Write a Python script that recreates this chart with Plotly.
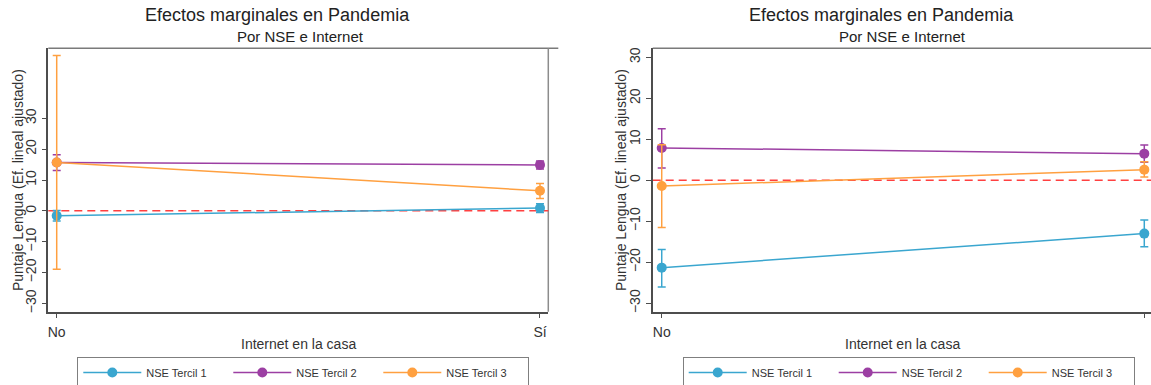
import plotly.graph_objects as go

# ---------------- data ----------------
x_labels = ["No", "Sí"]
x_pos = [0, 1]
series_names = ["NSE Tercil 1", "NSE Tercil 2", "NSE Tercil 3"]
colors = ["#3aa6cf", "#9c3fa3", "#ffa040"]

# Left panel: estimates and 95% CI
left_t1 = [-1.6, 0.9]
left_t1_lo = [-3.3, -0.5]
left_t1_hi = [0.1, 2.3]
left_t2 = [15.7, 14.9]
left_t2_lo = [13.1, 13.6]
left_t2_hi = [18.2, 16.2]
left_t3 = [15.7, 6.5]
left_t3_lo = [-18.9, 4.0]
left_t3_hi = [50.4, 8.9]

# Right panel
right_t1 = [-21.3, -13.0]
right_t1_lo = [-26.0, -16.2]
right_t1_hi = [-16.9, -9.7]
right_t2 = [7.9, 6.5]
right_t2_lo = [3.0, 4.4]
right_t2_hi = [12.6, 8.6]
right_t3 = [-1.4, 2.6]
right_t3_lo = [-11.5, 0.8]
right_t3_hi = [8.7, 4.5]

y_ticks = [-30, -20, -10, 0, 10, 20, 30]
title_text = "Efectos marginales en Pandemia"
subtitle_text = "Por NSE e Internet"
x_title = "Internet en la casa"
y_title = "Puntaje Lengua (Ef. lineal ajustado)"

# ---------------- layout helpers ----------------
W, H = 1151, 385
FONT = "Liberation Sans, Arial, sans-serif"

def px(xp):
    return xp / W

def py(yp):
    return 1 - yp / H

fig = go.Figure()

panels = [
    dict(xa="x", ya="y", leg="legend",
         series=[(left_t1, left_t1_lo, left_t1_hi),
                 (left_t2, left_t2_lo, left_t2_hi),
                 (left_t3, left_t3_lo, left_t3_hi)]),
    dict(xa="x2", ya="y2", leg="legend2",
         series=[(right_t1, right_t1_lo, right_t1_hi),
                 (right_t2, right_t2_lo, right_t2_hi),
                 (right_t3, right_t3_lo, right_t3_hi)]),
]

for p in panels:
    for name, col, (est, lo, hi) in zip(series_names, colors, p["series"]):
        fig.add_trace(go.Scatter(
            x=x_pos, y=est, name=name, mode="lines+markers",
            xaxis=p["xa"], yaxis=p["ya"], legend=p["leg"],
            line=dict(color=col, width=1.5),
            marker=dict(color=col, size=10, symbol="circle"),
            error_y=dict(type="data", symmetric=False,
                         array=[h - e for h, e in zip(hi, est)],
                         arrayminus=[e - l for e, l in zip(est, lo)],
                         color=col, thickness=1.5, width=4),
            showlegend=True,
        ))

ydom = [py(311.7), py(48.3)]
axis_common = dict(showgrid=False, zeroline=False, showline=True,
                   linecolor="#4d4d4d", linewidth=1.5, ticks="outside",
                   ticklen=5, tickwidth=1.2, tickcolor="#4d4d4d",
                   tickfont=dict(family=FONT, size=14, color="#333333"))

legend_common = dict(orientation="h", xanchor="left", y=py(357),
                     yanchor="top", bordercolor="#7f7f7f", borderwidth=1,
                     bgcolor="white",
                     font=dict(family=FONT, size=11, color="#333333"),
                     itemwidth=58, entrywidth=77, entrywidthmode="pixels")

fig.update_layout(
    width=W, height=H,
    margin=dict(l=0, r=0, t=0, b=0, autoexpand=False),
    paper_bgcolor="white", plot_bgcolor="white",
    font=dict(family=FONT, color="#333333"),
    xaxis=dict(domain=[px(48.3), px(548.3)], range=[-0.0174, 1.0172],
               tickvals=x_pos, ticktext=x_labels, anchor="y",
               ticklabelstandoff=2, **axis_common),
    yaxis=dict(domain=ydom, range=[-32.7, 52.7], tickvals=y_ticks,
               tickangle=-90, anchor="x", **axis_common),
    xaxis2=dict(domain=[px(652.7), 1.0], range=[-0.0187, 1.0139],
                tickvals=x_pos, ticktext=x_labels, anchor="y2",
                ticklabelstandoff=2, **axis_common),
    yaxis2=dict(domain=ydom, range=[-32.05, 32.2], tickvals=y_ticks,
                tickangle=-90, anchor="x2", **axis_common),
    legend=dict(x=px(77.3), **legend_common),
    legend2=dict(x=px(682.7), **legend_common),
)

shapes = []
for xa, ya, right_border in [("x", "y", True), ("x2", "y2", False)]:
    # top border
    shapes.append(dict(type="line", xref=f"{xa} domain", yref=f"{ya} domain",
                       x0=0, x1=1.02, y0=1, y1=1,
                       line=dict(color="#7a7a7a", width=1.5), layer="below"))
    if right_border:
        shapes.append(dict(type="line", xref=f"{xa} domain", yref=f"{ya} domain",
                           x0=1, x1=1, y0=0, y1=1,
                           line=dict(color="#8c8c8c", width=1.5), layer="below"))
    # zero reference line
    shapes.append(dict(type="line", xref=f"{xa} domain", yref=ya,
                       x0=0, x1=1, y0=0, y1=0,
                       line=dict(color="#ff4040", width=1.5, dash="8px,5px"),
                       layer="below"))
fig.update_layout(shapes=shapes)

annotations = []
for tcx, scx, ycx, xcx in [(277, 300, 18, 298.3), (881.5, 902, 621, 902)]:
    annotations.append(dict(text=title_text, x=px(tcx), y=py(15), xref="paper",
                            yref="paper", xanchor="center", yanchor="middle",
                            showarrow=False,
                            font=dict(family=FONT, size=18, color="#222222")))
    annotations.append(dict(text=subtitle_text, x=px(scx), y=py(36.7),
                            xref="paper", yref="paper", xanchor="center",
                            yanchor="middle", showarrow=False,
                            font=dict(family=FONT, size=15, color="#222222")))
    annotations.append(dict(text=y_title, x=px(ycx), y=py(180), xref="paper",
                            yref="paper", xanchor="center", yanchor="middle",
                            textangle=-90, showarrow=False,
                            font=dict(family=FONT, size=14, color="#333333")))
    annotations.append(dict(text=x_title, x=px(xcx), y=py(344.3), xref="paper",
                            yref="paper", xanchor="center", yanchor="middle",
                            showarrow=False,
                            font=dict(family=FONT, size=14, color="#333333")))
fig.update_layout(annotations=annotations)

fig.write_html(
    "out.html",
    config={"displayModeBar": False},
    post_script="document.body.style.margin='0px';document.body.style.overflow='hidden';",
)
